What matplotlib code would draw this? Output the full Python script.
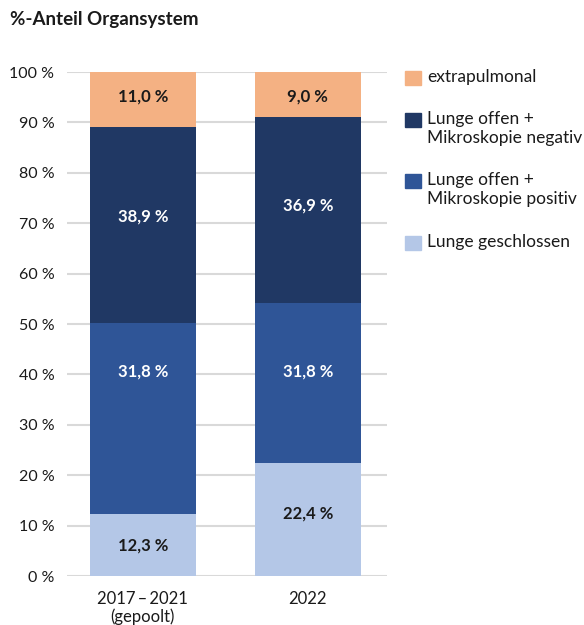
import matplotlib.pyplot as plt
from matplotlib.patches import Rectangle

plt.rcParams["font.family"] = ["Lato", "DejaVu Sans"]

categories = ["2017\u2009–\u20092021\n(gepoolt)", "2022"]
series_names = [
    "Lunge geschlossen",
    "Lunge offen +\nMikroskopie positiv",
    "Lunge offen +\nMikroskopie negativ",
    "extrapulmonal",
]
geschlossen = [12.3, 22.4]
offen_positiv = [37.8, 31.8]
offen_negativ = [38.9, 36.9]
extrapulmonal = [11.0, 9.0]
# labels as printed in the source chart, with the heights where they sit
label_texts = [
    ["12,3 %", "22,4 %"],
    ["31,8 %", "31,8 %"],
    ["38,9 %", "36,9 %"],
    ["11,0 %", "9,0 %"],
]
label_y = [
    [6.0, 12.3],
    [40.5, 40.5],
    [71.3, 73.6],
    [95.2, 95.2],
]
yticks = [0, 10, 20, 30, 40, 50, 60, 70, 80, 90, 100]

colors = ["#B4C7E7", "#2F5597", "#203864", "#F4B183"]
text_colors = ["#1a1a1a", "white", "white", "#1a1a1a"]

fig = plt.figure(figsize=(5.84, 6.25), dpi=100)
ax = fig.add_axes([0.1147, 0.0784, 0.548, 0.8064])

x = [0, 1]
bottom = [0, 0]
for i, vals in enumerate([geschlossen, offen_positiv, offen_negativ, extrapulmonal]):
    ax.bar(x, vals, bottom=bottom, width=0.64, color=colors[i], zorder=3)
    for j in range(2):
        ax.text(x[j], label_y[i][j], label_texts[i][j], ha="center",
                va="center", fontsize=12, fontweight="bold", color=text_colors[i], zorder=4)
    bottom = [bottom[k] + vals[k] for k in range(2)]

ax.set_xlim(-0.46, 1.48)
ax.set_ylim(0, 100)
ax.set_yticks(yticks)
ax.set_yticklabels([f"{t} %" for t in yticks])
ax.set_xticks(x)
ax.set_xticklabels(categories, linespacing=1.1)
ax.tick_params(axis="both", length=0, labelsize=11.5, colors="#1a1a1a")
ax.tick_params(axis="x", labelsize=12)
ax.tick_params(axis="y", pad=9)
ax.tick_params(axis="x", pad=11)
ax.yaxis.grid(True, color="#d9d9d9", linewidth=1.5, zorder=0)
ax.set_axisbelow(True)
for s in ax.spines.values():
    s.set_visible(False)

fig.text(10 / 584, 1 - 20 / 625, "%-Anteil Organsystem", fontsize=13.5,
         fontweight="bold", va="center", ha="left", color="#1a1a1a")

# legend (drawn manually to match the layout)
W, H = 584, 625
patch_tops = [71, 113, 174, 236]
legend_order = [3, 2, 1, 0]
for top, idx in zip(patch_tops, legend_order):
    fig.patches.append(Rectangle((405 / W, 1 - (top + 14) / H), 16 / W, 14 / H,
                                 transform=fig.transFigure, color=colors[idx]))
    fig.text(427 / W, 1 - (top - 2) / H, series_names[idx], fontsize=12.5, va="top",
             ha="left", color="#1a1a1a", linespacing=1.2)

fig.savefig("out.png", dpi=100)
